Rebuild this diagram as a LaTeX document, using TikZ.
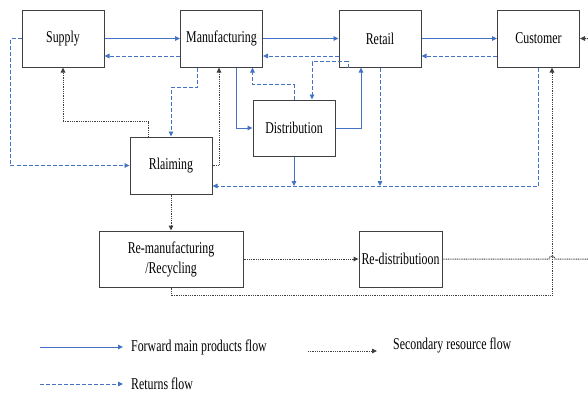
\documentclass[tikz,border=0pt]{standalone}
\usepackage{fontspec}
\setmainfont{Liberation Serif}[FakeStretch=0.72]
\usetikzlibrary{arrows.meta}

\definecolor{flowblue}{RGB}{68,114,196}
\definecolor{boxgray}{RGB}{64,64,64}

\tikzstyle{block} = [draw=boxgray,line width=1pt,rectangle,minimum width=82pt,minimum height=57pt,inner sep=1pt,align=center,text centered]
\tikzstyle{fwd} = [draw=flowblue,line width=0.9pt,-{Triangle[length=5pt,width=4.5pt]}]
\tikzstyle{ret} = [draw=flowblue,line width=0.9pt,dash pattern=on 4pt off 2pt,-{Triangle[length=5pt,width=4.5pt]}]
\tikzstyle{sec} = [draw=black!75,line width=1pt,dash pattern=on 1pt off 0.8pt,-{Triangle[length=5pt,width=4.5pt]}]
\tikzstyle{legend} = [anchor=west,inner xsep=8pt,inner ysep=2pt]

\begin{document}
\begin{tikzpicture}[x=1pt,y=-1pt,node distance=158.5pt,font=\fontsize{16.5}{20}\selectfont]
	\useasboundingbox (0,0) rectangle (588,392);
	\clip (0,0) rectangle (588,392);
	\node (supply) [block] at (63,38.5) {Supply};
	\node (manuf) [block,right of=supply] {Manufacturing};
	\node (retail) [block,right of=manuf] {Retail};
	\node (customer) [block,right of=retail] {Customer};
	\node (distrib) [block,minimum height=56pt] at (294,128) {Distribution};
	\node (claim) [block] at (171,165.5) {Rlaiming};
	\node (reman) [block,minimum width=144pt,minimum height=56pt] at (171,259) {Re-manufacturing\\/Recycling};
	\node (redist) [block,minimum width=83pt,minimum height=56pt] at (400.5,259) {Re-distributioon};
	\coordinate (back) at (0,56);
	\coordinate (bus) at (0,186);
	% forward main products
	\draw [fwd] (supply) -- (manuf);
	\draw [fwd] (manuf) -- (retail);
	\draw [fwd] (retail) -- (customer);
	\draw [fwd] ([xshift=14.5pt]manuf.south) |- (distrib.west);
	\draw [fwd] (distrib.east) -| ([xshift=-19pt]retail.south);
	\draw [fwd] (distrib.south) -- (distrib.south |- bus);
	% returns
	\draw [ret] (manuf.west |- back) -- (supply.east |- back);
	\draw [ret] (retail.west |- back) -- (manuf.east |- back);
	\draw [ret] (customer.west |- back) -- (retail.east |- back);
	\draw [ret] (supply.west) -- ++(-11,0) |- (claim.west);
	\draw [ret] ([xshift=-24.5pt]manuf.south) -- ++(0,20) -| (claim.north);
	\draw [ret] (distrib.north) -- ++(0,-15) -| (distrib.west |- manuf.south);
	\draw [ret] ([xshift=-32pt]retail.south) -- ++(0,-6) -| ([xshift=18pt]distrib.north);
	\draw [ret] (retail.south) -- (retail.south |- bus);
	\draw [ret] (customer.south) |- (claim.east |- bus);
	% secondary resources
	\draw [sec] ([xshift=-23pt]claim.north) -- ++(0,-15) -| (supply.south);
	\draw [sec] (claim.east) -| ([xshift=-2.5pt]manuf.south);
	\draw [sec] (claim) -- (reman);
	\draw [sec] (reman) -- (redist);
	\draw [sec] (redist.east) -- ([xshift=10.5pt]customer.south |- redist.east) arc[start angle=180,end angle=0,radius=3pt] -- ++(41,0) |- (customer.east);
	\draw [sec] (reman.south) -- ++(0,8) -| ([xshift=13.5pt]customer.south);
	% legend
	\coordinate (f0) at (40,347);
	\coordinate (r0) at (40,384);
	\coordinate (s0) at (308,351);
	\coordinate (s1) at (377,351);
	\node (lfwd) [legend] at (123,347) {Forward main products flow};
	\node (lret) [legend] at (123,384) {Returns flow};
	\node (lsec) [legend] at (385,345) {Secondary resource flow};
	\draw [fwd] (f0) -- (lfwd.west);
	\draw [ret] (r0) -- (lret.west);
	\draw [sec] (s0) -- (s1);
\end{tikzpicture}
\end{document}
